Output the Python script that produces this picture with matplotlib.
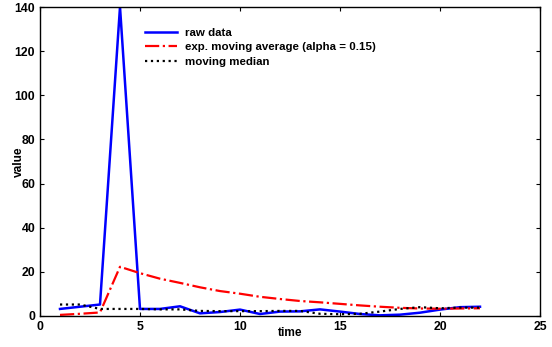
import matplotlib
matplotlib.use("Agg")
import matplotlib.pyplot as plt

plt.rcParams['font.family'] = ['Liberation Sans', 'DejaVu Sans']
plt.rcParams['font.weight'] = 'bold'

time = list(range(1, 23))
raw = [3.2, 4.2, 5.2, 140, 3.2, 3.2, 4.4, 1.2, 1.8, 2.9, 0.9, 2.0, 2.1, 3.0,
       2.0, 0.9, 0.3, 0.6, 1.5, 2.9, 4.0, 4.2]
ema = [0.5, 1.0, 1.6, 22.3, 19.4, 16.9, 15.0, 13.0, 11.3, 10.1, 8.7, 7.7, 6.8,
       6.2, 5.5, 4.8, 4.2, 3.7, 3.4, 3.3, 3.4, 3.5]
med = [5.2, 5.2, 3.2, 3.2, 3.2, 3.0, 3.0, 2.3, 2.2, 2.2, 2.2, 2.3, 2.3, 1.0,
       0.8, 1.0, 2.0, 3.2, 4.0, 3.5, 3.8, 3.8]

fig = plt.figure(figsize=(5.52, 3.47), dpi=100)
ax = fig.add_axes([40/552, 1-316/347, 500/552, 309/347])

ax.plot(time, raw, color='#0000ff', lw=1.8, label='raw data')
ax.plot(time, ema, color='#ff0000', lw=1.6, ls='-.', label='exp. moving average (alpha = 0.15)')
ax.plot(time, med, color='black', lw=1.6, ls=':', label='moving median')

ax.set_xlim(0, 25)
ax.set_ylim(0, 140)
ax.set_xticks([0, 5, 10, 15, 20, 25])
ax.set_yticks(range(0, 141, 20))
ax.tick_params(direction='in', top=True, right=True, labelsize=8.8, length=3, width=0.8)
for lab in ax.get_xticklabels() + ax.get_yticklabels():
    lab.set_fontweight('bold')
ax.set_xlabel('time', fontsize=8.6, fontweight='bold')
ax.set_ylabel('value', fontsize=8.6, fontweight='bold')
ax.xaxis.set_label_coords(0.5, -0.036)
ax.yaxis.set_label_coords(-0.031, 0.5)
for s in ax.spines.values():
    s.set_linewidth(1.0)

leg = ax.legend(loc='upper left', bbox_to_anchor=(0.2, 0.948), frameon=False,
                prop={'weight': 'bold', 'size': 8.25}, handlelength=2.8,
                handletextpad=0.7, labelspacing=0.4, borderaxespad=0)

fig.savefig('out.png', dpi=100)
